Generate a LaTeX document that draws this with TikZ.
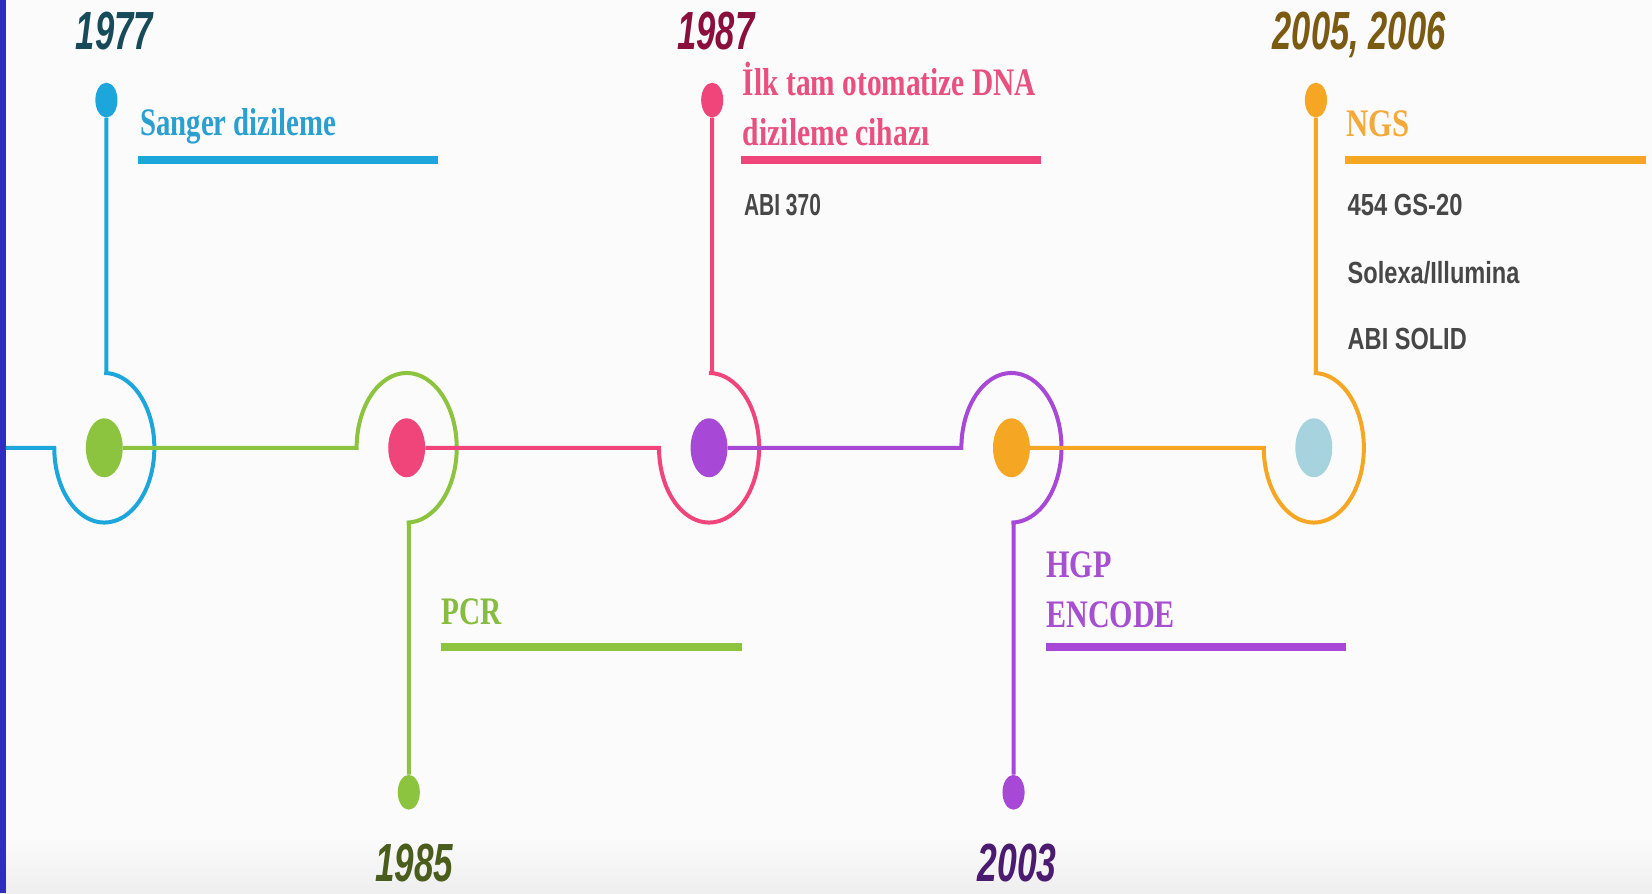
\documentclass[tikz,border=0pt]{standalone}
\usepackage{fontspec}
\setmainfont{Liberation Serif}
\newfontfamily\sansf{Liberation Sans}
\usetikzlibrary{shapes.geometric,calc}
\definecolor{cBlue}{HTML}{1CA6DC}
\definecolor{cGreen}{HTML}{8DC43F}
\definecolor{cPink}{HTML}{F0457B}
\definecolor{cPurple}{HTML}{A748D6}
\definecolor{cOrange}{HTML}{F5A623}
\definecolor{cLight}{HTML}{A7D3DE}
\definecolor{cGray}{HTML}{474747}
\definecolor{cBg}{HTML}{FBFBFB}
\definecolor{cBot}{HTML}{EEEEEE}
\definecolor{cBorder}{HTML}{2F2DBF}
\definecolor{yTeal}{HTML}{174B5A}
\definecolor{yCrimson}{HTML}{8A0F3C}
\definecolor{yBrown}{HTML}{7B5B12}
\definecolor{yOlive}{HTML}{4B5D1C}
\definecolor{yPlum}{HTML}{4A1B6E}
\definecolor{tBlue}{HTML}{2A9FD0}
\definecolor{tGreen}{HTML}{86BC40}
\definecolor{tPink}{HTML}{E8507F}
\definecolor{tPurple}{HTML}{A64FD0}
\definecolor{tOrange}{HTML}{F4A93A}
\newcommand\fitw[2]{\resizebox{#1}{\height}{#2}}
\begin{document}
\begin{tikzpicture}[x=1pt,y=1pt,
  conn/.style={line width=3.8pt},
  ul/.style={line width=8pt},
  bigdot/.style={ellipse, minimum width=35pt, minimum height=56pt, inner sep=0pt},
  smalldot/.style={ellipse, minimum width=21pt, minimum height=33pt, inner sep=0pt},
  year/.style={font=\sansf\bfseries\itshape\fontsize{51}{60}\selectfont, inner sep=0pt, anchor=base},
  head/.style={font=\bfseries\fontsize{37}{46}\selectfont, inner sep=0pt, anchor=base west},
  graytxt/.style={font=\sansf\bfseries\fontsize{29}{36}\selectfont, text=cGray, inner sep=0pt, anchor=base west},
]
\useasboundingbox (0,0) rectangle (1568,-848);
\fill[cBg] (0,0) rectangle (1568,-848);
\shade[top color=cBg, bottom color=cBot] (0,-795) rectangle (1568,-848);
\fill[cBorder] (0,0) rectangle (5.5,-848);

% positions
\coordinate (s0) at (5.5,-425);
\path
  (99,-425) coordinate (c1)
  (386,-425) coordinate (c2)
  (673,-425) coordinate (c3)
  (960,-425) coordinate (c4)
  (1247,-425) coordinate (c5);
\path (101,-95) coordinate (ct1) (676,-95) coordinate (ct3) (1249,-95) coordinate (ct5)
      (388,-752) coordinate (cb2) (962,-752) coordinate (cb4);
\node[smalldot] (t1) at (ct1) {};
\node[smalldot] (t3) at (ct3) {};
\node[smalldot] (t5) at (ct5) {};
\node[smalldot] (b2) at (cb2) {};
\node[smalldot] (b4) at (cb4) {};
\node[bigdot] (d1) at (c1) {};
\node[bigdot] (d2) at (c2) {};
\node[bigdot] (d3) at (c3) {};
\node[bigdot] (d4) at (c4) {};
\node[bigdot] (d5) at (c5) {};

% connectors
\draw[conn,cBlue] (s0) -- ($(c1)+(-47.5,0)$) arc[start angle=180,end angle=450,x radius=47.5pt,y radius=71pt] -| (t1);
\draw[conn,cGreen] (d1) -- ($(c2)+(-47.5,0)$) arc[start angle=180,end angle=-90,x radius=47.5pt,y radius=71pt] -| (b2);
\draw[conn,cPink] (d2) -- ($(c3)+(-47.5,0)$) arc[start angle=180,end angle=450,x radius=47.5pt,y radius=71pt] -| (t3);
\draw[conn,cPurple] (d3) -- ($(c4)+(-47.5,0)$) arc[start angle=180,end angle=-90,x radius=47.5pt,y radius=71pt] -| (b4);
\draw[conn,cOrange] (d4) -- ($(c5)+(-47.5,0)$) arc[start angle=180,end angle=450,x radius=47.5pt,y radius=71pt] -| (t5);

% dot fills
\fill[cBlue] (ct1) ellipse[x radius=10.5pt,y radius=16.5pt];
\fill[cPink] (ct3) ellipse[x radius=10.5pt,y radius=16.5pt];
\fill[cOrange] (ct5) ellipse[x radius=10.5pt,y radius=16.5pt];
\fill[cGreen] (cb2) ellipse[x radius=10.5pt,y radius=16.5pt];
\fill[cPurple] (cb4) ellipse[x radius=10.5pt,y radius=16.5pt];
\fill[cGreen] (c1) ellipse[x radius=17.5pt,y radius=28pt];
\fill[cPink] (c2) ellipse[x radius=17.5pt,y radius=28pt];
\fill[cPurple] (c3) ellipse[x radius=17.5pt,y radius=28pt];
\fill[cOrange] (c4) ellipse[x radius=17.5pt,y radius=28pt];
\fill[cLight] (c5) ellipse[x radius=17.5pt,y radius=28pt];

% underlines
\draw[ul,cBlue] (131,-152) -- (416,-152);
\draw[ul,cPink] (703,-152) -- (988,-152);
\draw[ul,cOrange] (1277,-152) -- (1562,-152);
\draw[ul,cGreen] (419,-614) -- (704,-614);
\draw[ul,cPurple] (993,-614) -- (1278,-614);

% years
\node[year,text=yTeal] (y1) at (108.5,-47) {\fitw{73pt}{1977}};
\node[year,text=yCrimson] (y3) at (679.5,-47) {\fitw{73pt}{1987}};
\node[year,text=yBrown] (y5) at (1290,-47) {\fitw{164pt}{2005, 2006}};
\node[year,text=yOlive] (y2) at (393,-837) {\fitw{74pt}{1985}};
\node[year,text=yPlum] (y4) at (965.5,-837) {\fitw{75pt}{2003}};

% headings
\node[head,text=tBlue] (h1) at (133,-129) {\fitw{186pt}{Sanger dizileme}};
\node[head,text=tPink] (h3a) at (705,-91) {\fitw{278pt}{İlk tam otomatize DNA}};
\node[head,text=tPink] (h3b) at (705,-138) {\fitw{177pt}{dizileme cihazı}};
\node[head,text=tOrange] (h5) at (1278,-130) {\fitw{60pt}{NGS}};
\node[head,text=tGreen] (h2) at (419,-593) {\fitw{57pt}{PCR}};
\node[head,text=tPurple] (h4a) at (993,-548) {\fitw{62pt}{HGP}};
\node[head,text=tPurple] (h4b) at (993,-596) {\fitw{122pt}{ENCODE}};

% gray details
\node[graytxt] (g3) at (706,-205) {\fitw{73pt}{ABI 370}};
\node[graytxt] (g5a) at (1279,-205) {\fitw{109pt}{454 GS-20}};
\node[graytxt] (g5b) at (1279,-269) {\fitw{163pt}{Solexa/Illumina}};
\node[graytxt] (g5c) at (1279,-332) {\fitw{113pt}{ABI SOLID}};
\end{tikzpicture}
\end{document}
